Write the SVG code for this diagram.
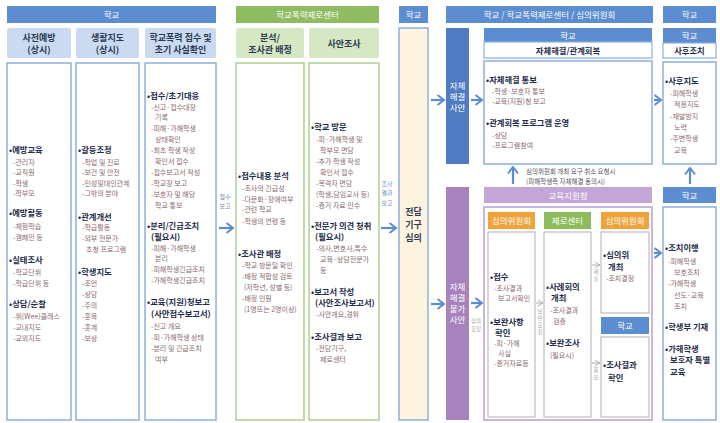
<svg xmlns="http://www.w3.org/2000/svg" width="720" height="423" viewBox="0 0 720 423" font-family="'Noto Sans CJK KR', 'Noto Sans', sans-serif">
<defs>
<style>
.hb{fill:#5B8DD0}
.ht{fill:#fff;font-size:8.5px;text-anchor:middle}
.shb{fill:#C9DAF1}
.shg{fill:#D6E7C4}
.st{font-size:9px;font-weight:bold;fill:#2E3A55;text-anchor:middle}
.bx{fill:#fff;stroke:#8DB0E0;stroke-width:1.5}
.bxg{fill:#fff;stroke:#AECF8E;stroke-width:1.5}
.bxp{fill:#fff;stroke:#BC9CD2;stroke-width:1.5}
.bxr{fill:#fff;stroke:#BDBDBD;stroke-width:1.2}
.b{font-size:8.3px;font-weight:bold;fill:#1F2D4A}
.s{font-size:7px;fill:#8A6A70}
.lab{font-size:6px;fill:#6F8DBD;text-anchor:middle}
.gl{font-size:5.5px;fill:#AAAAAA;text-anchor:middle}
.note{font-size:6.5px;fill:#555}
.arr{fill:none;stroke:#5B8DD0;stroke-width:2.2}
.garr{fill:none;stroke:#AAAAAA;stroke-width:1}
</style>
<marker id="ah" viewBox="0 0 10 12" refX="8.5" refY="6" markerWidth="10" markerHeight="12" markerUnits="userSpaceOnUse" orient="auto">
<path d="M2,1 L8.5,6 L2,11" fill="none" stroke="#5B8DD0" stroke-width="2"/>
</marker>
<marker id="gh" viewBox="0 0 8 8" refX="7" refY="4" markerWidth="7" markerHeight="7" markerUnits="userSpaceOnUse" orient="auto">
<path d="M1,0.5 L7,4 L1,7.5" fill="none" stroke="#AAAAAA" stroke-width="1"/>
</marker>
</defs>
<rect width="720" height="423" fill="#fff"/>

<!-- Top headers -->
<g id="hdr-school1"><rect class="hb" x="7" y="6" width="209" height="17"/><text class="ht" x="111.5" y="17.5">학교</text></g>
<g id="hdr-center"><rect x="236" y="6" width="143" height="17" fill="#8FBC62"/><text class="ht" x="307.5" y="17.5">학교폭력제로센터</text></g>
<g id="hdr-school2"><rect class="hb" x="399" y="6" width="29" height="17"/><text class="ht" x="413.5" y="17.5">학교</text></g>
<g id="hdr-mix"><rect class="hb" x="446" y="6" width="207" height="17"/><text class="ht" x="549.5" y="17.5">학교 / 학교폭력제로센터 / 심의위원회</text></g>
<g id="hdr-school3"><rect class="hb" x="663" y="6" width="53" height="17"/><text class="ht" x="689.5" y="17.5">학교</text></g>

<!-- Column 1 -->
<g id="col-prevent">
<rect class="shb" x="7" y="28" width="64" height="30" rx="2"/>
<text class="st" x="39" y="41">사전예방</text><text class="st" x="39" y="53">(상시)</text>
<rect class="bx" x="7" y="63" width="64" height="357"/>
<text class="b" x="9" y="153">•예방교육</text>
<text class="s" x="13" y="165">-관리자</text><text class="s" x="13" y="175">-교직원</text><text class="s" x="13" y="186">-학생</text><text class="s" x="13" y="196">-학부모</text>
<text class="b" x="9" y="216">•예방활동</text>
<text class="s" x="13" y="229">-체험학습</text><text class="s" x="13" y="240">-캠페인 등</text>
<text class="b" x="9" y="263">•실태조사</text>
<text class="s" x="13" y="275">-학교단위</text><text class="s" x="13" y="286">-학급단위 등</text>
<text class="b" x="9" y="307">•상담/순찰</text>
<text class="s" x="13" y="319">-위(Wee)클래스</text><text class="s" x="13" y="330">-교내지도</text><text class="s" x="13" y="341">-교외지도</text>
</g>

<!-- Column 2 -->
<g id="col-guidance">
<rect class="shb" x="76" y="28" width="63" height="30" rx="2"/>
<text class="st" x="107.5" y="41">생활지도</text><text class="st" x="107.5" y="53">(상시)</text>
<rect class="bx" x="76" y="63" width="63" height="357"/>
<text class="b" x="78" y="153">•갈등조정</text>
<text class="s" x="82" y="165">-학업 및 진로</text><text class="s" x="82" y="175">-보건 및 안전</text><text class="s" x="82" y="186">-인성및대인관계</text><text class="s" x="82" y="196">-그밖의 분야</text>
<text class="b" x="78" y="220">•관계개선</text>
<text class="s" x="82" y="230">-학급활동</text><text class="s" x="82" y="241">-외부 전문가</text><text class="s" x="86" y="252">초청 프로그램</text>
<text class="b" x="78" y="275">•학생지도</text>
<text class="s" x="82" y="286">-조언</text><text class="s" x="82" y="297">-상담</text><text class="s" x="82" y="308">-주의</text><text class="s" x="82" y="319">-훈육</text><text class="s" x="82" y="330">-훈계</text><text class="s" x="82" y="341">-보상</text>
</g>

<!-- Column 3 -->
<g id="col-receive">
<rect class="shb" x="145" y="28" width="71" height="30" rx="2"/>
<text class="st" x="180.5" y="41">학교폭력 접수 및</text><text class="st" x="180.5" y="53">초기 사실확인</text>
<rect class="bx" x="145" y="63" width="71" height="357"/>
<text class="b" x="147" y="99">•접수/초기대응</text>
<text class="s" x="151" y="110">-신고·접수대장</text><text class="s" x="155" y="120">기록</text>
<text class="s" x="151" y="131">-피해·가해학생</text><text class="s" x="155" y="142">상태확인</text>
<text class="s" x="151" y="153">-최초 학생 작성</text><text class="s" x="155" y="164">확인서 접수</text>
<text class="s" x="151" y="175">-접수보고서 작성</text>
<text class="s" x="151" y="186">-학교장 보고</text>
<text class="s" x="151" y="197">-보호자 및 해당</text><text class="s" x="155" y="208">학교 통보</text>
<text class="b" x="147" y="229">•분리/긴급조치</text>
<text class="b" x="151" y="240">(필요시)</text>
<text class="s" x="151" y="251">-피해·가해학생</text><text class="s" x="155" y="261">분리</text>
<text class="s" x="151" y="272">-피해학생긴급조치</text>
<text class="s" x="151" y="283">-가해학생긴급조치</text>
<text class="b" x="147" y="305">•교육(지원)청보고</text>
<text class="b" x="151" y="317">(사안접수보고서)</text>
<text class="s" x="151" y="329">-신고 개요</text>
<text class="s" x="151" y="340">-피·가해학생 상태</text>
<text class="s" x="151" y="351">-분리 및 긴급조치</text><text class="s" x="155" y="362">여부</text>
</g>

<!-- Column 4 -->
<g id="col-analysis">
<rect class="shg" x="236" y="28" width="68" height="30" rx="2"/>
<text class="st" x="270" y="41">분석/</text><text class="st" x="270" y="53">조사관 배정</text>
<rect class="bxg" x="236" y="63" width="68" height="357"/>
<text class="b" x="238" y="179">•접수내용 분석</text>
<text class="s" x="242" y="191">-조사의 긴급성</text>
<text class="s" x="242" y="202">-다문화·장애여부</text>
<text class="s" x="242" y="212">-관련 학교</text>
<text class="s" x="242" y="224">-학생의 연령 등</text>
<text class="b" x="238" y="257">•조사관 배정</text>
<text class="s" x="242" y="268">-학교 방문일 확인</text>
<text class="s" x="242" y="279">-배정 적합성 검토</text>
<text class="s" x="244" y="290">(저학년, 성별 등)</text>
<text class="s" x="242" y="301">-배정 인원</text>
<text class="s" x="244" y="312">(1명또는 2명이상)</text>
</g>

<!-- Column 5 -->
<g id="col-investigate">
<rect class="shg" x="309" y="28" width="70" height="30" rx="2"/>
<text class="st" x="344" y="47">사안조사</text>
<rect class="bxg" x="309" y="63" width="70" height="357"/>
<text class="b" x="311" y="130">•학교 방문</text>
<text class="s" x="316" y="142">-피·가해학생 및</text><text class="s" x="320" y="153">학부모 면담</text>
<text class="s" x="316" y="164">-추가 학생 작성</text><text class="s" x="320" y="175">확인서 접수</text>
<text class="s" x="316" y="186">-목격자 면담</text><text class="s" x="316" y="197">(학생,담임교사 등)</text>
<text class="s" x="316" y="208">-증거 자료 인수</text>
<text class="b" x="311" y="229">•전문가 의견 청취</text>
<text class="b" x="315" y="240">(필요시)</text>
<text class="s" x="316" y="251">-의사,변호사,특수</text><text class="s" x="320" y="262">교육·상담전문가</text><text class="s" x="320" y="273">등</text>
<text class="b" x="311" y="295">•보고서 작성</text>
<text class="b" x="315" y="306">(사안조사보고서)</text>
<text class="s" x="316" y="317">-사안개요,경위</text>
<text class="b" x="311" y="340">•조사결과 보고</text>
<text class="s" x="316" y="351">-전담기구,</text><text class="s" x="320" y="362">제로센터</text>
</g>

<!-- 전담기구 -->
<g id="node-committee">
<rect x="399" y="28" width="29" height="392" fill="#FEF3DE" stroke="#8DB0E0" stroke-width="1.5"/>
<text class="st" x="413.5" y="215" font-size="8.5">전담</text>
<text class="st" x="413.5" y="228" font-size="8.5">기구</text>
<text class="st" x="413.5" y="241" font-size="8.5">심의</text>
</g>

<!-- 자체해결 사안 -->
<g id="node-self">
<rect x="446" y="28" width="23" height="136" fill="#4E7BC2"/>
<text class="ht" x="457.5" y="89">자체</text>
<text class="ht" x="457.5" y="100">해결</text>
<text class="ht" x="457.5" y="111">사안</text>
</g>
<g id="node-notself">
<rect x="446" y="187" width="23" height="233" fill="#A882BC"/>
<text class="ht" x="457.5" y="290">자체</text>
<text class="ht" x="457.5" y="301">해결</text>
<text class="ht" x="457.5" y="312">불가</text>
<text class="ht" x="457.5" y="323">사안</text>
</g>

<!-- School self-resolution -->
<g id="node-school-resolve">
<rect class="hb" x="484" y="28" width="168" height="14"/>
<text class="ht" x="568" y="38.5">학교</text>
<rect x="484" y="42" width="168" height="16" fill="#fff" stroke="#8DB0E0" stroke-width="1.2"/>
<text class="b" x="568" y="53.5" text-anchor="middle" font-size="8.5">자체해결/관계회복</text>
<rect class="bx" x="484" y="61" width="168" height="103"/>
<text class="b" x="486" y="83">•자체해결 통보</text>
<text class="s" x="492" y="94">-학생·보호자 통보</text>
<text class="s" x="492" y="104">-교육(지원)청 보고</text>
<text class="b" x="486" y="126">•관계회복 프로그램 운영</text>
<text class="s" x="492" y="138">-상담</text>
<text class="s" x="492" y="148">-프로그램참여</text>
</g>

<g id="note-cancel">
<text class="note" x="526" y="174">심의위원회 개최 요구 취소 요청시</text>
<text class="note" x="526" y="183.5">(피해학생측 자체해결 동의시)</text>
</g>

<!-- 교육지원청 -->
<g id="node-office">
<rect x="484" y="187" width="168" height="16" fill="#C3A5D6"/>
<text class="ht" x="568" y="198.5">교육지원청</text>
<rect class="bxp" x="484" y="207" width="168" height="213"/>
</g>
<g id="node-deliberation1">
<rect x="488" y="212" width="47" height="17" fill="#F2A23A"/>
<text class="ht" x="511.5" y="223.5">심의위원회</text>
<rect class="bxr" x="488" y="232" width="47" height="185"/>
<text class="b" x="490" y="280">•접수</text>
<text class="s" x="494" y="291">-조사결과</text><text class="s" x="498" y="301">보고서확인</text>
<text class="b" x="490" y="325">•보완사항</text><text class="b" x="495" y="336">확인</text>
<text class="s" x="494" y="346">-피·가해</text><text class="s" x="498" y="356">사실</text>
<text class="s" x="494" y="366">-증거자료등</text>
</g>
<g id="node-zerocenter">
<rect x="544" y="212" width="47" height="17" fill="#8DBD5B"/>
<text class="ht" x="567.5" y="223.5">제로센터</text>
<rect class="bxr" x="544" y="232" width="47" height="185"/>
<text class="b" x="546" y="290">•사례회의</text><text class="b" x="551" y="301">개최</text>
<text class="s" x="550" y="313">-조사결과</text><text class="s" x="553" y="324">검증</text>
<text class="b" x="546" y="346">•보완조사</text>
<text class="s" x="550" y="358">(필요시)</text>
</g>
<g id="node-deliberation2">
<rect x="601" y="212" width="48" height="17" fill="#F2A23A"/>
<text class="ht" x="625" y="223.5">심의위원회</text>
<rect class="bxr" x="601" y="232" width="48" height="81"/>
<text class="b" x="603" y="258">•심의위</text><text class="b" x="608" y="270">개최</text>
<text class="s" x="606" y="281">-조치결정</text>
</g>
<g id="node-school-confirm">
<rect class="hb" x="601" y="317" width="48" height="17"/>
<text class="ht" x="625" y="328.5">학교</text>
<rect class="bxr" x="601" y="337" width="48" height="80"/>
<text class="b" x="603" y="368">•조사결과</text><text class="b" x="608" y="381">확인</text>
</g>

<!-- Right column -->
<g id="node-followup">
<rect class="hb" x="663" y="28" width="53" height="15"/>
<text class="ht" x="689.5" y="39">학교</text>
<rect x="663" y="43" width="53" height="15" fill="#fff" stroke="#8DB0E0" stroke-width="1.2"/>
<text class="b" x="689.5" y="54" text-anchor="middle" font-size="8.8">사후조치</text>
<rect class="bx" x="663" y="62" width="53" height="102"/>
<text class="b" x="665" y="84">•사후지도</text>
<text class="s" x="670" y="96">-피해학생</text><text class="s" x="674" y="107">적응지도</text>
<text class="s" x="670" y="119">-재발방지</text><text class="s" x="674" y="130">노력</text>
<text class="s" x="670" y="141">-주변학생</text><text class="s" x="674" y="153">교육</text>
</g>
<g id="node-measures">
<rect class="hb" x="663" y="187" width="53" height="16"/>
<text class="ht" x="689.5" y="198.5">학교</text>
<rect class="bx" x="663" y="207" width="53" height="213"/>
<text class="b" x="665" y="251">•조치이행</text>
<text class="s" x="668" y="264">-피해학생</text><text class="s" x="674" y="275">보호조치</text>
<text class="s" x="668" y="286">-가해학생</text><text class="s" x="674" y="298">선도·교육</text><text class="s" x="674" y="309">조치</text>
<text class="b" x="665" y="330">•학생부 기재</text>
<text class="b" x="665" y="352">•가해학생</text>
<text class="b" x="670" y="363">보호자 특별</text>
<text class="b" x="670" y="375">교육</text>
</g>

<!-- Connectors -->
<g id="connectors">
<path class="arr" d="M219,228 H233" marker-end="url(#ah)"/>
<text class="lab" x="225" y="199">접수</text><text class="lab" x="225" y="208">보고</text>
<path class="arr" d="M381,228 H396" marker-end="url(#ah)"/>
<text class="lab" x="387" y="186">조사</text><text class="lab" x="387" y="195">결과</text><text class="lab" x="387" y="205">보고</text>
<path class="arr" d="M431,100 H444" marker-end="url(#ah)"/>
<path class="arr" d="M431,304 H444" marker-end="url(#ah)"/>
<path class="arr" d="M471,100 H482" marker-end="url(#ah)"/>
<path class="arr" d="M471,303 H482" marker-end="url(#ah)"/>
<text class="gl" x="476" y="323" fill="#888">심의</text><text class="gl" x="476" y="331" fill="#888">요청</text>
<path class="arr" d="M513,184 V167" stroke-width="2.6" marker-end="url(#ah)"/>
<path class="arr" d="M654,100 H661" marker-end="url(#ah)"/>
<path class="arr" d="M654,253 H661" marker-end="url(#ah)"/>
<path class="arr" d="M690,184 V168" stroke-width="2.6" marker-end="url(#ah)"/>
<path class="garr" d="M536,303 H543" marker-end="url(#gh)"/>
<text class="gl" x="540" y="313">보</text><text class="gl" x="540" y="320">완</text><text class="gl" x="540" y="327">요</text><text class="gl" x="540" y="334">청</text>
<path class="garr" d="M592,265 H600" marker-end="url(#gh)"/>
<text class="gl" x="596" y="274">제</text><text class="gl" x="596" y="281">출</text>
<path class="garr" d="M592,363 H600" marker-end="url(#gh)"/>
<text class="gl" x="596" y="372">통</text><text class="gl" x="596" y="379">보</text>
</g>
</svg>
